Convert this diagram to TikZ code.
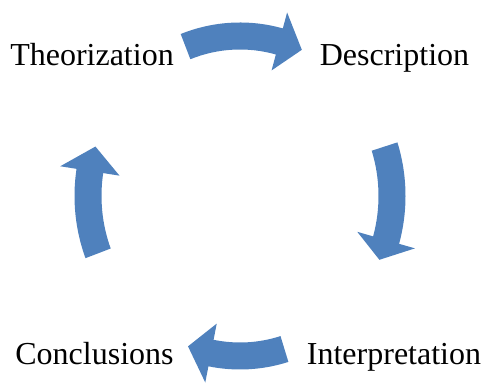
\documentclass[tikz,border=0pt]{standalone}
\usepackage{fontspec}
\setmainfont{Liberation Serif}
\usepackage{tikz}

\definecolor{cyclefill}{HTML}{4F81BD}
\tikzset{
  stage/.style={anchor=base,inner sep=0pt,font=\fontsize{16}{19}\selectfont},
  cyclearrow/.style={fill=cyclefill,draw=none}
}
% tail angle, head base angle, tip angle
\newcommand{\cyclearrow}[3]{%
\fill[cyclearrow] (#1:165.5 and 173.5) arc[start angle=#1,end angle=#2,x radius=165.5,y radius=173.5]
  -- (#2:182 and 190) -- (#3:152 and 160) -- (#2:122 and 130)
  -- (#2:138.5 and 146.5) arc[start angle=#2,end angle=#1,x radius=138.5,y radius=146.5] -- cycle;}

\begin{document}
\begin{tikzpicture}[x=0.5pt,y=-0.5pt]
\useasboundingbox (0,0) rectangle (482,383);
\node[stage] (theo) at (92,66) {Theorization};
\node[stage] (desc) at (394.5,66) {Description};
\node[stage] (inter) at (394,365) {Interpretation};
\node[stage] (concl) at (94.5,365) {Conclusions};
\begin{scope}[shift={(240,196)}]
\cyclearrow{-111}{-75}{-66} % top
\cyclearrow{-18}{16}{23.5} % right
\cyclearrow{73}{101}{110} % bottom
\cyclearrow{159}{189}{198} % left
\end{scope}
\end{tikzpicture}
\end{document}
